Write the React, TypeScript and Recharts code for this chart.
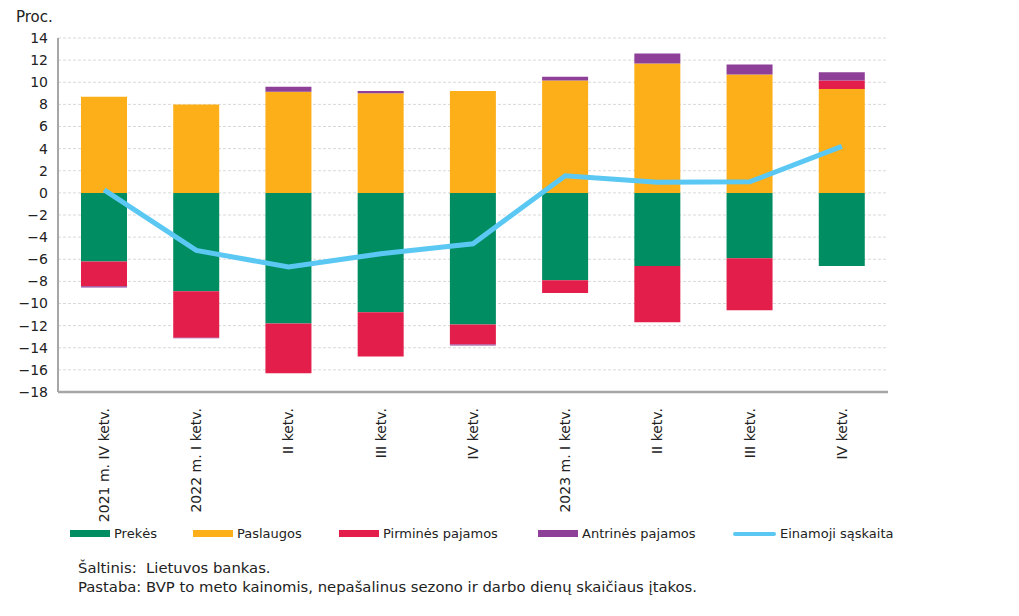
import React from "react";
import {
  ComposedChart,
  Bar,
  Line,
  XAxis,
  YAxis,
  CartesianGrid,
} from "recharts";

const quarters = [
  "2021 m. IV ketv.",
  "2022 m. I ketv.",
  "II ketv.",
  "III ketv.",
  "IV ketv.",
  "2023 m. I ketv.",
  "II ketv.",
  "III ketv.",
  "IV ketv.",
];

// Percent of GDP
const prekes = [-6.2, -8.9, -11.8, -10.8, -11.9, -7.9, -6.6, -5.9, -6.6];
const paslaugos = [8.7, 8.0, 9.15, 9.0, 9.2, 10.15, 11.7, 10.7, 9.4];
const pirmines = [-2.25, -4.2, -4.5, -4.0, -1.8, -1.15, -5.1, -4.7, 0.75];
const antrines = [-0.1, -0.05, 0.45, 0.2, -0.1, 0.35, 0.9, 0.9, 0.75];
const einamoji = [0.27, -5.2, -6.7, -5.5, -4.6, 1.55, 0.95, 1.0, 4.2];

const yTicks = [14, 12, 10, 8, 6, 4, 2, 0, -2, -4, -6, -8, -10, -12, -14, -16, -18];

const barSeries = [
  { key: "prekes", name: "Prekės", color: "#008d62", values: prekes },
  { key: "paslaugos", name: "Paslaugos", color: "#fdaf19", values: paslaugos },
  { key: "pirmines", name: "Pirminės pajamos", color: "#e31e4a", values: pirmines },
  { key: "antrines", name: "Antrinės pajamos", color: "#8e3f97", values: antrines },
];
const LINE_COLOR = "#5bc8f3";

// stack positives upwards and negatives downwards, like a "sign" offset
const data = quarters.map((q, i) => {
  const row: any = { idx: i, q, einamoji: einamoji[i] };
  let pos = 0;
  let neg = 0;
  barSeries.forEach((s) => {
    const v = s.values[i];
    if (v >= 0) {
      row[s.key] = [pos, pos + v];
      pos += v;
    } else {
      row[s.key] = [neg + v, neg];
      neg += v;
    }
  });
  return row;
});

const FONT = "'DejaVu Sans', Verdana, sans-serif";

const formatTick = (v: number) => (v < 0 ? "\u2212" + Math.abs(v) : String(v));

const RotatedTick = (props: any) => {
  const { x, y, payload } = props;
  return (
    <g transform={`translate(${x},${y + 8}) rotate(-90)`}>
      <text
        x={0}
        y={0}
        dy="0.35em"
        textAnchor="end"
        fill="#222"
        fontSize={14}
        fontFamily={FONT}
      >
        {quarters[payload.value]}
      </text>
    </g>
  );
};

const legendX = [70, 193, 339, 538, 733];

function ChartLegend() {
  const items = [
    ...barSeries.map((s) => ({ name: s.name, color: s.color, line: false })),
    { name: "Einamoji sąskaita", color: LINE_COLOR, line: true },
  ];
  return (
    <>
      {items.map((it, i) => (
        <div
          key={it.name}
          style={{
            position: "absolute",
            left: legendX[i],
            top: 524,
            height: 19,
            display: "flex",
            alignItems: "center",
            gap: 4,
            fontSize: 13,
            color: "#222",
            whiteSpace: "nowrap",
          }}
        >
          <span
            style={{
              display: "inline-block",
              width: it.line ? 43 : 40,
              height: it.line ? 4 : 7,
              borderRadius: it.line ? 2 : 0,
              background: it.color,
            }}
          />
          <span>{it.name}</span>
        </div>
      ))}
    </>
  );
}

export default function App() {
  return (
    <div
      style={{
        position: "absolute",
        left: 0,
        top: 0,
        width: 1019,
        height: 616,
        background: "#fff",
        fontFamily: FONT,
      }}
    >
      <div
        style={{
          position: "absolute",
          left: 16,
          top: 8,
          fontSize: 15,
          color: "#222",
        }}
      >
        Proc.
      </div>
      <ComposedChart
        width={1019}
        height={616}
        data={data}
        barSize={46}
        barGap={-46}
        margin={{ top: 38, right: 131, left: 8, bottom: 94 }}
      >
        <CartesianGrid
          horizontal
          vertical={false}
          stroke="#d9d9d9"
          strokeDasharray="3 2"
        />
        <XAxis
          dataKey="idx"
          type="category"
          tick={<RotatedTick />}
          tickLine={false}
          axisLine={{ stroke: "#a6a6a6", strokeWidth: 2.5 }}
          interval={0}
          height={130}
        />
        <YAxis
          domain={[-18, 14]}
          ticks={yTicks}
          interval={0}
          tickFormatter={formatTick}
          tickLine={false}
          axisLine={{ stroke: "#a6a6a6", strokeWidth: 2 }}
          tick={{ fontSize: 14, fill: "#222", fontFamily: FONT, dx: -2 }}
          width={50}
        />
        {barSeries.map((s) => (
          <Bar
            key={s.key}
            dataKey={s.key}
            name={s.name}
            fill={s.color}
            isAnimationActive={false}
          />
        ))}
        <Line
          dataKey="einamoji"
          name="Einamoji sąskaita"
          stroke={LINE_COLOR}
          strokeWidth={5}
          dot={false}
          activeDot={false}
          type="linear"
          isAnimationActive={false}
        />
      </ComposedChart>
      <ChartLegend />
      <div
        style={{
          position: "absolute",
          left: 78,
          top: 558,
          fontSize: 14.8,
          lineHeight: "19px",
          color: "#222",
          whiteSpace: "pre",
        }}
      >
        {"Šaltinis:  Lietuvos bankas.\nPastaba: BVP to meto kainomis, nepašalinus sezono ir darbo dienų skaičiaus įtakos."}
      </div>
    </div>
  );
}
